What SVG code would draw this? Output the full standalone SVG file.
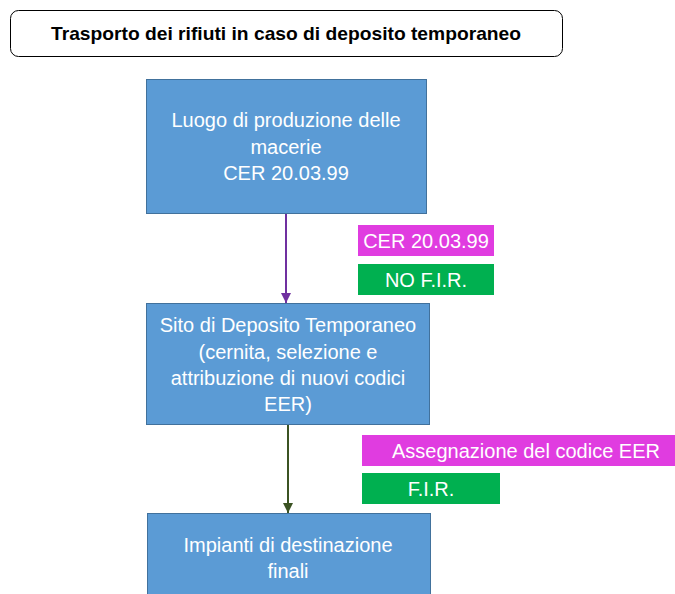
<svg xmlns="http://www.w3.org/2000/svg" width="675" height="594" viewBox="0 0 675 594">
<style>
.box{fill:#5B9BD5;stroke:#41719C;stroke-width:1}
.t{font-family:"Liberation Sans",Arial,sans-serif;font-size:20px;fill:#FFFFFF;text-anchor:middle}
.pink{fill:#E03CE0}
.green{fill:#00B050}
</style>
<defs>
<marker id="ap" viewBox="0 0 10 10" refX="10" refY="5" markerWidth="10" markerHeight="10" markerUnits="userSpaceOnUse" orient="auto"><path d="M0,0 L10,5 L0,10 z" fill="#7030A0"/></marker>
<marker id="ag" viewBox="0 0 10 10" refX="10" refY="5" markerWidth="10" markerHeight="10" markerUnits="userSpaceOnUse" orient="auto"><path d="M0,0 L10,5 L0,10 z" fill="#3B5323"/></marker>
</defs>
<rect width="675" height="594" fill="#FFFFFF"/>
<g id="title">
<rect x="10.5" y="10.5" width="552" height="46" rx="8" fill="#FFFFFF" stroke="#000000" stroke-width="1"/>
<text x="286" y="40" font-family="'Liberation Sans',Arial,sans-serif" font-size="19" font-weight="bold" fill="#000000" text-anchor="middle" textLength="470" lengthAdjust="spacingAndGlyphs">Trasporto dei rifiuti in caso di deposito temporaneo</text>
</g>
<g id="connectors">
<line x1="286" y1="213" x2="286" y2="303" stroke="#7030A0" stroke-width="2" marker-end="url(#ap)"/>
<line x1="288" y1="424" x2="288" y2="513" stroke="#3B5323" stroke-width="2" marker-end="url(#ag)"/>
</g>
<g id="n1">
<rect class="box" x="146.5" y="79.5" width="280" height="134"/>
<text class="t" x="286" y="127">Luogo di produzione delle</text>
<text class="t" x="286" y="154">macerie</text>
<text class="t" x="286" y="180">CER 20.03.99</text>
</g>
<g id="n2">
<rect class="box" x="146.5" y="303.5" width="283" height="121"/>
<text class="t" x="288" y="332">Sito di Deposito Temporaneo</text>
<text class="t" x="288" y="359">(cernita, selezione e</text>
<text class="t" x="288" y="385">attribuzione di nuovi codici</text>
<text class="t" x="288" y="411">EER)</text>
</g>
<g id="n3">
<rect class="box" x="147.5" y="513.5" width="283" height="90"/>
<text class="t" x="288" y="552">Impianti di destinazione</text>
<text class="t" x="288" y="578">finali</text>
</g>
<g id="l1">
<rect class="pink" x="358" y="225" width="136" height="31"/>
<text class="t" x="426" y="247.5">CER 20.03.99</text>
</g>
<g id="l2">
<rect class="green" x="358" y="264" width="136" height="31"/>
<text class="t" x="426" y="286.5">NO F.I.R.</text>
</g>
<g id="l3">
<rect class="pink" x="362" y="435" width="313" height="31"/>
<text class="t" x="526" y="458">Assegnazione del codice EER</text>
</g>
<g id="l4">
<rect class="green" x="362" y="473" width="138" height="31"/>
<text class="t" x="431" y="496">F.I.R.</text>
</g>
</svg>
